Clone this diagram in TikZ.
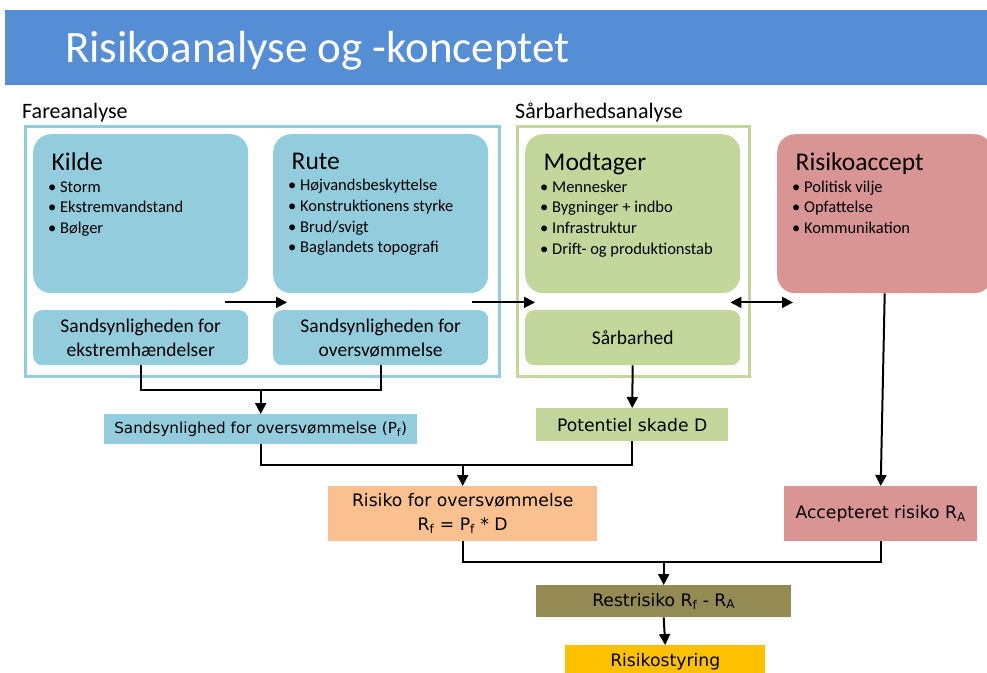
\documentclass[tikz,border=0pt]{standalone}
\usepackage{fontspec}
\setmainfont{Carlito}
\newfontfamily\tahfont{DejaVu Sans}
\usepackage{tikz}
\usetikzlibrary{arrows.meta,positioning}

\definecolor{titleblue}{HTML}{558ED5}
\definecolor{skyfill}{HTML}{93CDDD}
\definecolor{leaffill}{HTML}{C3D69B}
\definecolor{rosefill}{HTML}{D99594}
\definecolor{peachfill}{HTML}{FAC090}
\definecolor{olivefill}{HTML}{948A54}
\definecolor{goldfill}{HTML}{FFC000}

\newcommand{\boxlist}[2]{\parbox[t][122pt][t]{185pt}{\raggedright
  \hspace*{3.5pt}{\fontsize{25.5}{28}\selectfont #1}\\[1pt]#2}}
\newcommand{\bul}{\textbullet\ }

\tikzset{
  groupframe/.style={anchor=north west, line width=2.5pt, inner sep=0pt},
  bigbox/.style={anchor=north west, rounded corners=18pt, minimum width=215pt,
    minimum height=159pt, inner xsep=15pt, inner ysep=18.5pt,
    font=\fontsize{16.5}{20.7}\selectfont},
  probbox/.style={anchor=north west, rounded corners=9pt, minimum width=215pt,
    minimum height=55pt, align=center, font=\fontsize{19.5}{24}\selectfont},
  resbox/.style={anchor=north west, align=center, inner sep=0pt,
    font=\tahfont\fontsize{17.2}{24}\selectfont},
  link/.style={line width=2pt},
  flow/.style={line width=2pt, -{Triangle[width=11pt,length=11pt]}},
  twoway/.style={line width=2pt, {Triangle[width=11pt,length=11pt]}-{Triangle[width=11pt,length=11pt]}}
}

\begin{document}
\begin{tikzpicture}[x=1pt,y=-1pt]
  \useasboundingbox (0,0) rectangle (987,672);
  \clip (0,0) rectangle (987,672);

  % title bar
  \fill[titleblue] (5,10) rectangle (987,85);
  \node[anchor=base west, inner sep=0pt, text=white,
    font=\fontsize{45}{50}\selectfont] (title) at (65,62) {Risikoanalyse og -konceptet};

  % group frames
  \node[groupframe, draw=skyfill, minimum width=474pt, minimum height=250pt] (fare) at (24,125) {};
  \node[groupframe, draw=leaffill, minimum width=232pt, minimum height=250pt] (saarb) at (516,125) {};
  \node[anchor=base west, inner sep=0pt, font=\fontsize{22}{24}\selectfont]
    at ([shift={(-2,-7)}]fare.north west) {Fareanalyse};
  \node[anchor=base west, inner sep=0pt, font=\fontsize{22}{24}\selectfont]
    at ([shift={(-1,-7)}]saarb.north west) {Sårbarhedsanalyse};

  % upper boxes
  \node[bigbox, fill=skyfill] (kilde) at (33,134)
    {\boxlist{Kilde}{\bul Storm\\\bul Ekstremvandstand\\\bul Bølger}};
  \node[bigbox, fill=skyfill] (rute) at (273,134)
    {\boxlist{Rute}{\bul Højvandsbeskyttelse\\\bul Konstruktionens styrke\\\bul Brud/svigt\\\bul Baglandets topografi}};
  \node[bigbox, fill=leaffill] (modt) at (525,134)
    {\boxlist{Modtager}{\bul Mennesker\\\bul Bygninger + indbo\\\bul Infrastruktur\\\bul Drift- og produktionstab}};
  \node[bigbox, fill=rosefill, minimum width=212pt] (accept) at (777,134)
    {\boxlist{Risikoaccept}{\bul Politisk vilje\\\bul Opfattelse\\\bul Kommunikation}};

  \node[probbox, fill=skyfill] (sand1) at (33,310) {Sandsynligheden for\\ekstremhændelser};
  \node[probbox, fill=skyfill] (sand2) at (273,310) {Sandsynligheden for\\oversvømmelse};
  \node[probbox, fill=leaffill] (sarb) at (525,310) {Sårbarhed};

  % lower boxes
  \node[resbox, fill=skyfill, minimum width=313pt, minimum height=30pt,
    font=\tahfont\fontsize{15.2}{18}\selectfont] (pf) at (104,414)
    {Sandsynlighed for oversvømmelse (P\textsubscript{f})};
  \node[resbox, fill=leaffill, minimum width=192pt, minimum height=33pt] (pot) at (536,408)
    {Potentiel skade D};
  \node[resbox, fill=peachfill, minimum width=269pt, minimum height=55pt] (risk) at (328,486)
    {Risiko for oversvømmelse\\R\textsubscript{f} = P\textsubscript{f} * D};
  \node[resbox, fill=rosefill, minimum width=193pt, minimum height=55pt] (accr) at (784,486)
    {Accepteret risiko R\textsubscript{A}};
  \node[resbox, fill=olivefill, minimum width=255pt, minimum height=32pt] (rest) at (536,585)
    {Restrisiko R\textsubscript{f} - R\textsubscript{A}};
  \node[resbox, fill=goldfill, minimum width=200pt, minimum height=34pt] (styr) at (565,645)
    {Risikostyring};

  % connectors
  \draw[flow] ([shift={(-23,9)}]kilde.south east) -- ([shift={(14,9)}]rute.south west);
  \draw[flow] ([shift={(-16,9)}]rute.south east) -- ([shift={(10,9)}]modt.south west);
  \draw[twoway] ([shift={(-10,9)}]modt.south east) -- ([shift={(16,9)}]accept.south west);

  \draw[link] (sand1.south) -- ++(0,25) -| (sand2.south);
  \draw[flow] (pf.north) ++(0,-24) -- (pf.north);
  \draw[flow] (sarb.south) -- (pot.north);

  \draw[link] (pf.south) -- ++(0,21) -| (pot.south);
  \draw[flow] (risk.north) ++(0,-21) -- (risk.north);

  \draw[flow] (accept.south) -- (accr.north);
  \draw[link] (risk.south) -- ++(0,21) -| (accr.south);
  \draw[flow] (rest.north) ++(0,-23) -- (rest.north);
  \draw[flow] (rest.south) -- (styr.north);
\end{tikzpicture}
\end{document}
